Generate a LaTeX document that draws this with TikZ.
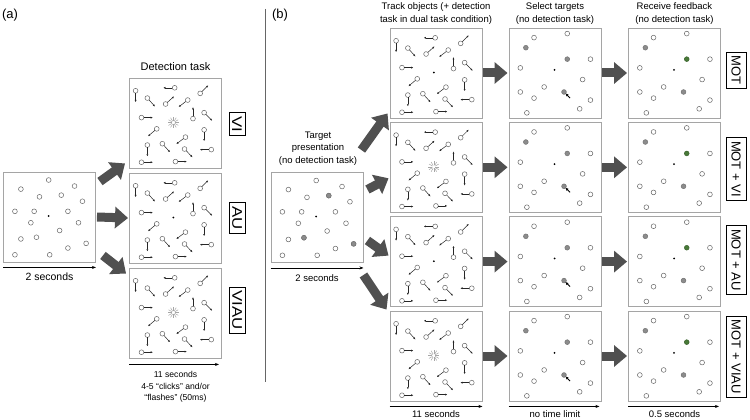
\documentclass[tikz,border=0pt]{standalone}
\usepackage{fontspec}
\setmainfont{Liberation Sans}
\usetikzlibrary{arrows.meta}

\definecolor{arrowgray}{RGB}{80,80,80}
\definecolor{boxgray}{RGB}{165,165,165}
\definecolor{dotgray}{RGB}{140,140,140}
\definecolor{hitgreen}{RGB}{72,122,56}

\tikzset{
  panel/.style={draw=boxgray,line width=0.9pt,minimum width=92pt,minimum height=90pt,inner sep=0pt},
  bigarrow/.style={draw=arrowgray,line width=9pt,-{Triangle[length=13pt,width=21pt]}},
  timeline/.style={draw=black,line width=0.6pt,-{Stealth[length=4pt,width=3pt]}},
  obj/.style={draw=black!60,line width=0.5pt,fill=white},
  target/.style={draw=black!55,line width=0.5pt,fill=dotgray},
  hit/.style={draw=hitgreen!80!black,line width=0.5pt,fill=hitgreen},
  move/.style={draw=black!85,line width=0.5pt,-{Latex[length=2.2pt,width=2pt]}},
  burst/.style={draw=black!35,line width=0.5pt},
  pointer/.style={draw=black,line width=0.9pt,-{Latex[length=3pt,width=3pt]}},
  cond/.style={draw=black,line width=0.7pt,rotate=-90,inner xsep=3.5pt,inner ysep=1pt,
    minimum height=20pt,font=\fontsize{13}{13}\selectfont},
  conda/.style={cond,minimum height=16pt,font=\fontsize{14}{14}\selectfont},
  caption/.style={align=center,font=\fontsize{9.5}{12.5}\selectfont},
}

% static display: 18 objects and the fixation point
\newcommand{\startdots}[1]{%
  \begin{scope}[shift={(#1.north west)},x=92pt,y=-90pt]
    \foreach \u/\v in {0.496/0.094, 0.194/0.195, 0.777/0.161, 0.396/0.281, 0.633/0.262,
                       0.863/0.330, 0.129/0.442, 0.338/0.442, 0.705/0.442, 0.302/0.569,
                       0.820/0.569, 0.615/0.655, 0.194/0.749, 0.363/0.730, 0.705/0.850,
                       0.903/0.798, 0.129/0.925, 0.507/0.925}
      \draw[obj] (\u,\v) circle[radius=2.4pt];
    \fill (0.496,0.494) circle[radius=1pt];
  \end{scope}}

% moving objects (position and heading); #2 is the centre (fixation or flash)
\newcommand{\movedots}[2]{%
  \begin{scope}[shift={(#1.north west)},x=92pt,y=-90pt]
    \foreach \u/\v/\a in {0.071/0.147/-90, 0.496/0.114/180, 0.773/0.176/45,
                          0.199/0.228/-48, 0.397/0.294/42,  0.638/0.250/-143,
                          0.135/0.445/0,   0.695/0.456/90,  0.816/0.390/-45,
                          0.301/0.570/-140,0.816/0.581/-90, 0.199/0.750/-90,
                          0.362/0.735/-48, 0.613/0.662/-143,0.603/0.794/-46,
                          0.894/0.801/180, 0.135/0.941/0,   0.504/0.934/0}{
      \draw[obj] (\u,\v) circle[radius=2.4pt];
      \draw[move] (\u,\v) ++(\a:2.4pt) -- ++(\a:9pt);
    }
    #2
  \end{scope}}

\newcommand{\fixation}{\fill (0.482,0.5) circle[radius=1pt];}
\newcommand{\flash}{\foreach \b in {0,30,...,330} \draw[burst] (0.482,0.5) ++(\b:1.6pt) -- ++(\b:4pt);}

% probe display; #2 marks the third target
\newcommand{\probedots}[2]{%
  \begin{scope}[shift={(#1.north west)},x=92pt,y=-90pt]
    \foreach \u/\v in {0.277/0.112, 0.638/0.067, 0.890/0.351, 0.128/0.448, 0.805/0.578,
                       0.387/0.660, 0.128/0.716, 0.277/0.784, 0.890/0.806, 0.773/0.903,
                       0.199/0.948}
      \draw[obj] (\u,\v) circle[radius=2.4pt];
    \draw[target] (0.188,0.224) circle[radius=2.4pt];
    \draw[target] (0.603,0.716) circle[radius=2.4pt];
    #2
    \fill (0.5,0.47) circle[radius=1pt];
  \end{scope}}

\newcommand{\pickcue}{\draw[target] (0.638,0.351) circle[radius=2.4pt];
  \draw[pointer] (0.603,0.716) ++(-45:8.5pt) -- ++(135:6.5pt);}
\newcommand{\feedcue}{\draw[hit] (0.638,0.351) circle[radius=2.4pt];}

\begin{document}
\begin{tikzpicture}[x=1pt,y=-1pt]
  \path[fill=white,use as bounding box] (0,0) rectangle (750,420);

  \node[font=\fontsize{13}{13}\selectfont] (pa) at ( 10.0, 15.0) {(a)};
  \node[font=\fontsize{13}{13}\selectfont] (pb) at (280.0, 15.0) {(b)};
  \draw[black!60,line width=0.6pt] (265,9) -- (265,382);

  % panel a
  \node[panel] (a0) at ( 49.5,217.0) {};
  \node[panel] (vi) at (175.5,123.0) {};
  \node[panel] (au) at (175.5,218.0) {};
  \node[panel] (va) at (175.5,313.0) {};
  \startdots{a0}
  \movedots{vi}{\flash}
  \movedots{au}{\fixation}
  \movedots{va}{\flash}

  \node[conda] (lvi) at (237.0,124.0) {\scalebox{1.2}[1]{VI}};
  \node[conda] (lau) at (237.0,218.0) {\scalebox{1.2}[1]{AU}};
  \node[conda] (lva) at (237.0,310.0) {\scalebox{1.2}[1]{VIAU}};

  \draw[bigarrow] ([shift={(4,10)}]a0.north east) -- ([shift={(-4,-5)}]vi.south west);
  \draw[bigarrow] ([xshift=1pt]a0.east) -- ([xshift=-1pt]au.west);
  \draw[bigarrow] ([shift={(7,-7)}]a0.south east) -- ([shift={(-3,6)}]va.north west);

  \node[font=\fontsize{11}{11}\selectfont] (hdet) at (175.5, 67.0) {Detection task};
  \draw[timeline] ([yshift=-5pt]a0.south west) -- ([yshift=-5pt]a0.south east);
  \node[font=\fontsize{10.5}{10.5}\selectfont] (ta0) at ( 49.5,277.0) {2 seconds};
  \draw[timeline] ([yshift=-6pt]va.south west) -- ([shift={(-3,6)}]va.south east);
  \node[align=center,font=\fontsize{8.6}{11.5}\selectfont] (tdet) at (175.5,387.0)
    {11 seconds\\4-5 “clicks” and/or\\“flashes” (50ms)};

  % panel b
  \node[panel] (tgt)  at (317.0,217.5) {};
  \node[panel] (trk1) at (436.0, 73.0) {};
  \node[panel] (trk2) at (436.0,167.3) {};
  \node[panel] (trk3) at (436.0,261.6) {};
  \node[panel] (trk4) at (436.0,356.0) {};
  \node[panel] (sel1) at (555.0, 73.0) {};
  \node[panel] (sel2) at (555.0,167.3) {};
  \node[panel] (sel3) at (555.0,261.6) {};
  \node[panel] (sel4) at (555.0,356.0) {};
  \node[panel] (fb1)  at (674.5, 73.0) {};
  \node[panel] (fb2)  at (674.5,167.3) {};
  \node[panel] (fb3)  at (674.5,261.6) {};
  \node[panel] (fb4)  at (674.5,356.0) {};

  \startdots{tgt}
  \begin{scope}[shift={(tgt.north west)},x=92pt,y=-90pt]
    \foreach \u/\v in {0.633/0.262, 0.363/0.730, 0.903/0.798}
      \draw[target] (\u,\v) circle[radius=2.4pt];
  \end{scope}
  \movedots{trk1}{\fixation}
  \movedots{trk2}{\flash}
  \movedots{trk3}{\fixation}
  \movedots{trk4}{\flash}
  \foreach \r in {1,2,3,4}{
    \probedots{sel\r}{\pickcue}
    \probedots{fb\r}{\feedcue}
    \draw[bigarrow] ([xshift=1pt]trk\r.east) -- ([xshift=-1pt]sel\r.west);
    \draw[bigarrow] ([xshift=1pt]sel\r.east) -- ([xshift=-1pt]fb\r.west);
  }

  \draw[bigarrow] ([shift={(-2,-22)}]tgt.north east) -- ([shift={(-2,-5)}]trk1.south west);
  \draw[bigarrow] ([shift={(4,-28)}]tgt.east)        -- ([shift={(-1,11)}]trk2.west);
  \draw[bigarrow] ([shift={(4,23)}]tgt.east)         -- ([shift={(-1,-6)}]trk3.west);
  \draw[bigarrow] ([shift={(0,12)}]tgt.south east)   -- ([shift={(-3,-1)}]trk4.north west);

  \node[cond] (lm1) at (736.0, 70.0) {MOT};
  \node[cond] (lm2) at (736.0,169.0) {MOT + VI};
  \node[cond] (lm3) at (736.0,260.0) {MOT + AU};
  \node[cond] (lm4) at (736.0,357.0) {MOT + VIAU};

  \node[caption] (htrk) at (436.0, 13.5) {Track objects (+ detection\\task in dual task condition)};
  \node[caption] (hsel) at (555.0, 13.5) {Select targets\\(no detection task)};
  \node[caption] (hfb)  at (674.5, 13.5) {Receive feedback\\(no detection task)};
  \node[caption] (htgt) at (318.0,148.5) {Target\\presentation\\(no detection task)};

  \draw[timeline] ([yshift=-5pt]tgt.south west) -- ([yshift=-5pt]tgt.south east);
  \draw[timeline] ([yshift=-5pt]trk4.south west) -- ([yshift=-5pt]trk4.south east);
  \draw[timeline] ([yshift=-5pt]sel4.south west) -- ([shift={(-2,5)}]sel4.south east);
  \draw[timeline] ([yshift=-5pt]fb4.south west) -- ([shift={(-2,5)}]fb4.south east);
  \node[caption] (ttgt) at (317.0,278.0) {2 seconds};
  \node[caption] (ttrk) at (436.0,414.0) {11 seconds};
  \node[caption] (tsel) at (555.0,414.0) {no time limit};
  \node[caption] (tfb)  at (674.5,414.0) {0.5 seconds};
\end{tikzpicture}
\end{document}
